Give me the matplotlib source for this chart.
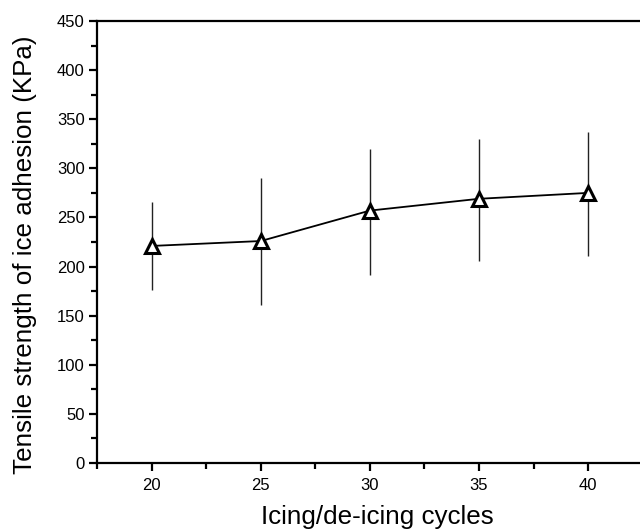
import matplotlib
matplotlib.use("Agg")
import matplotlib.pyplot as plt
from matplotlib.ticker import MultipleLocator

cycles = [20, 25, 30, 35, 40]
strength = [221, 226, 257, 269, 275]
err_upper = [266, 290, 320, 330, 337]
err_lower = [176, 161, 191, 206, 211]

yerr = [[s - lo for s, lo in zip(strength, err_lower)],
        [hi - s for s, hi in zip(strength, err_upper)]]

plt.rcParams['font.family'] = ['Liberation Sans', 'DejaVu Sans']

fig = plt.figure(figsize=(6.4, 5.32), dpi=100)
ax = fig.add_axes([0.152, 0.1297, 0.852, 0.8308])

ax.errorbar(cycles, strength, yerr=yerr, fmt='none', ecolor='#222222',
            elinewidth=1.0, capsize=0, zorder=2)
ax.plot(cycles, strength, color='black', linewidth=1.3, zorder=3)
ax.plot(cycles, strength, linestyle='none', marker='^', markersize=10,
        markerfacecolor='white', markeredgecolor='black', markeredgewidth=2.2, zorder=4)

ax.set_xlim(17.5, 42.5)
ax.set_ylim(0, 450)
ax.xaxis.set_major_locator(MultipleLocator(5))
ax.xaxis.set_minor_locator(MultipleLocator(2.5))
ax.yaxis.set_major_locator(MultipleLocator(50))
ax.yaxis.set_minor_locator(MultipleLocator(25))

for s in ax.spines.values():
    s.set_linewidth(1.6)
ax.tick_params(which='major', direction='out', length=6, width=1.6, labelsize=12, pad=3)
ax.tick_params(which='minor', direction='out', length=4, width=1.6)
ax.tick_params(axis='x', which='major', pad=5)

ax.set_xlabel('Icing/de-icing cycles', fontsize=18.7)
ax.set_ylabel('Tensile strength of ice adhesion (KPa)', fontsize=18.7)
ax.xaxis.set_label_coords(0.514, -0.095)
ax.yaxis.set_label_coords(-0.11, 0.4706)

fig.savefig('out.png', dpi=100)
